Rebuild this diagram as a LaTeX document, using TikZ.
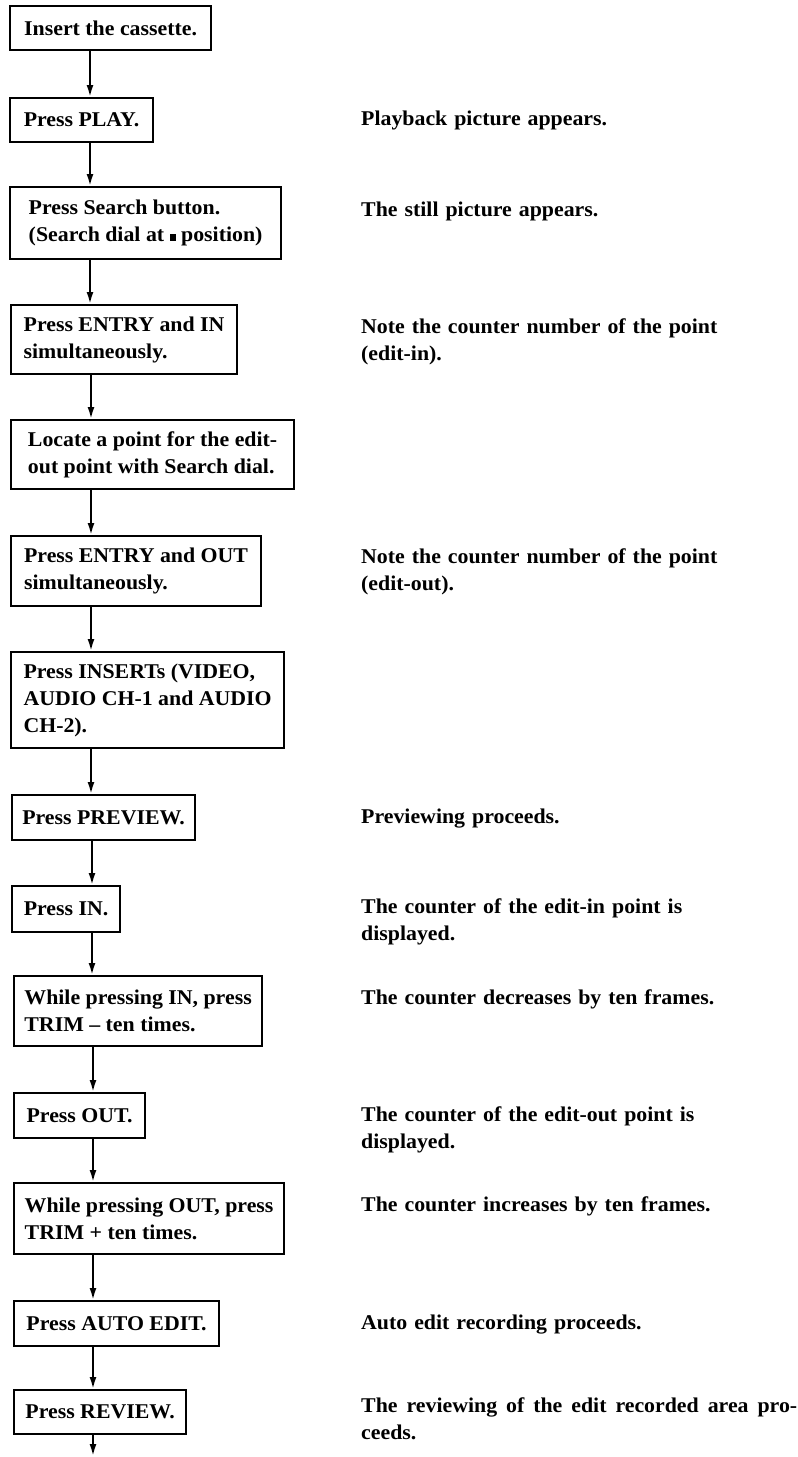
\documentclass[tikz,border=0pt]{standalone}
\usepackage{fontspec}
\setmainfont{Liberation Serif}[BoldFeatures={FakeStretch=1.04}]
\usetikzlibrary{arrows.meta}

\begin{document}
\begin{tikzpicture}[x=1pt,y=-1pt,
    every node/.style={font=\fontsize{21}{27}\selectfont\bfseries},
    stepbox/.style={draw,line width=2.2pt,anchor=north west,align=left,inner xsep=10pt,inner ysep=0pt},
    note/.style={anchor=north west,inner sep=0pt,text width=436pt,align=left,execute at begin node=\strut},
    flow/.style={line width=2pt,-{Latex[length=12pt,width=7pt]}}]
    \useasboundingbox (0,0) rectangle (798,1457);

    % steps
    \node[stepbox,minimum width=201pt,minimum height=44pt] (b1) at (9,5) {Insert the cassette.};
    \node[stepbox,minimum width=143pt,minimum height=44pt] (b2) at (9,97) {Press PLAY.};
    \node[stepbox,minimum width=271pt,minimum height=72pt] (b3) at (9,186)
        {Press Search button.\\(Search dial at \rule[1pt]{6pt}{7pt} position)};
    \node[stepbox,minimum width=226pt,minimum height=69pt] (b4) at (10,304)
        {Press ENTRY and IN\\simultaneously.};
    \node[stepbox,minimum width=283pt,minimum height=69pt] (b5) at (10,419)
        {Locate a point for the edit-\\out point with Search dial.};
    \node[stepbox,minimum width=250pt,minimum height=70pt] (b6) at (10,535)
        {Press ENTRY and OUT\\simultaneously.};
    \node[stepbox,minimum width=273pt,minimum height=96pt] (b7) at (10,651)
        {Press INSERTs (VIDEO,\\AUDIO CH-1 and AUDIO\\CH-2).};
    \node[stepbox,minimum width=183pt,minimum height=45pt] (b8) at (11,794) {Press PREVIEW.};
    \node[stepbox,minimum width=108pt,minimum height=46pt] (b9) at (11,885) {Press IN.};
    \node[stepbox,minimum width=248pt,minimum height=70pt] (b10) at (13,975)
        {While pressing IN, press\\TRIM -- ten times.};
    \node[stepbox,minimum width=131pt,minimum height=45pt] (b11) at (13,1092) {Press OUT.};
    \node[stepbox,minimum width=270pt,minimum height=71pt] (b12) at (13,1182)
        {While pressing OUT, press\\TRIM + ten times.};
    \node[stepbox,minimum width=205pt,minimum height=45pt] (b13) at (13,1300) {Press AUTO EDIT.};
    \node[stepbox,minimum width=172pt,minimum height=44pt] (b14) at (13,1389) {Press REVIEW.};
    \coordinate (tail) at (93,1456);

    % results
    \node[note] (r2) at (361,106) {Playback picture appears.};
    \node[note] (r3) at (361,197) {The still picture appears.};
    \node[note] (r4) at (361,314) {Note the counter number of the point\\(edit-in).};
    \node[note] (r6) at (361,544) {Note the counter number of the point\\(edit-out).};
    \node[note] (r8) at (361,804) {Previewing proceeds.};
    \node[note] (r9) at (361,894) {The counter of the edit-in point is\\displayed.};
    \node[note] (r10) at (361,985) {The counter decreases by ten frames.};
    \node[note] (r11) at (361,1102) {The counter of the edit-out point is\\displayed.};
    \node[note] (r12) at (361,1192) {The counter increases by ten frames.};
    \node[note] (r13) at (361,1310) {Auto edit recording proceeds.};
    \node[note,align=justify] (r14) at (361,1393)
        {The reviewing of the edit recorded area pro-\linebreak ceeds.};

    % flow
    \draw[flow] ([xshift=81pt]b1.south west) -- ([xshift=81pt]b1.south west |- b2.north);
    \draw[flow] ([xshift=81pt]b2.south west) -- ([xshift=81pt]b2.south west |- b3.north);
    \draw[flow] ([xshift=81pt]b3.south west) -- ([xshift=81pt]b3.south west |- b4.north);
    \draw[flow] ([xshift=81pt]b4.south west) -- ([xshift=81pt]b4.south west |- b5.north);
    \draw[flow] ([xshift=81pt]b5.south west) -- ([xshift=81pt]b5.south west |- b6.north);
    \draw[flow] ([xshift=81pt]b6.south west) -- ([xshift=81pt]b6.south west |- b7.north);
    \draw[flow] ([xshift=81pt]b7.south west) -- ([xshift=81pt]b7.south west |- b8.north);
    \draw[flow] ([xshift=81pt]b8.south west) -- ([xshift=81pt]b8.south west |- b9.north);
    \draw[flow] ([xshift=81pt]b9.south west) -- ([xshift=81pt]b9.south west |- b10.north);
    \draw[flow] ([xshift=80pt]b10.south west) -- ([xshift=80pt]b10.south west |- b11.north);
    \draw[flow] ([xshift=80pt]b11.south west) -- ([xshift=80pt]b11.south west |- b12.north);
    \draw[flow] ([xshift=80pt]b12.south west) -- ([xshift=80pt]b12.south west |- b13.north);
    \draw[flow] ([xshift=80pt]b13.south west) -- ([xshift=80pt]b13.south west |- b14.north);
    \draw[flow] ([xshift=80pt]b14.south west) -- ([xshift=80pt]b14.south west |- tail);
\end{tikzpicture}
\end{document}
